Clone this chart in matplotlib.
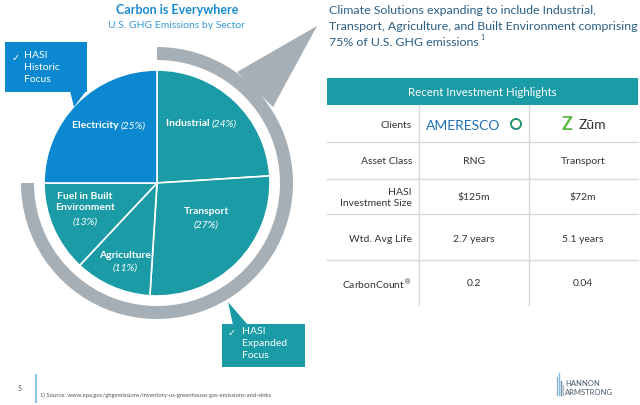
import matplotlib
matplotlib.use("Agg")
import matplotlib.pyplot as plt
from matplotlib.patches import Wedge, Polygon, Rectangle, Circle

plt.rcParams['font.family'] = ['Lato', 'DejaVu Sans']

# pie data (clockwise from 12 o'clock)
sectors = ['Industrial', 'Transport', 'Agriculture', 'Fuel in Built\nEnvironment', 'Electricity']
shares = [24, 27, 11, 13, 25]
sector_colors = ['#1a9ba6', '#1a9ba6', '#1a9ba6', '#1a9ba6', '#0b88cf']
label_pos = [(212, 124), (206, 212), (125, 255), (85, 202), (121, 126)]

# table data
row_labels = ['Clients', 'Asset Class', 'HASI\nInvestment Size', 'Wtd. Avg Life', 'CarbonCount$^{®}$']
ameresco_vals = ['', 'RNG', '$125m', '2.7 years', '0.2']
zum_vals = ['', 'Transport', '$72m', '5.1 years', '0.04']

headline = ['Climate Solutions expanding to include Industrial,',
            'Transport, Agriculture, and Built Environment comprising',
            '75% of U.S. GHG emissions']

BLUE = '#0b88cf'
TEAL = '#1a9ba6'
GREY = '#a7afb6'
H = 406


def Y(py):
    return H - py


fig = plt.figure(figsize=(6.4, 4.06), dpi=100)
ax = fig.add_axes([0, 0, 1, 1])

cx, cy, r = 157, Y(184), 113

# grey ring + pointer
ax.add_patch(Wedge((cx, cy), 136, 180, 450, width=13, color=GREY, lw=0))
ax.add_patch(Polygon([(237, Y(73)), (317, Y(27)), (273, Y(108))], closed=True, color=GREY, lw=0))

# pie
ax.pie(shares, colors=sector_colors, startangle=90, counterclock=False,
       center=(cx, cy), radius=r, frame=True,
       wedgeprops=dict(edgecolor='white', linewidth=1.2))
ax.set_xlim(0, 640)
ax.set_ylim(0, H)
ax.set_aspect('equal')
ax.axis('off')

for name, pct, (lx, ly) in zip(sectors, shares, label_pos):
    if name in ('Industrial', 'Electricity'):
        ax.text(lx, Y(ly), name + ' ', color='white', fontsize=7.5, fontweight='bold',
                ha='right', va='center')
        ax.text(lx, Y(ly), '(%d%%)' % pct, color='white', fontsize=7.5, style='italic',
                ha='left', va='center')
    else:
        nl = name.count('\n')
        ax.text(lx, Y(ly), name, color='white', fontsize=7.5, fontweight='bold',
                ha='center', va='center', linespacing=1.3)
        ax.text(lx, Y(ly + 13 + 7 * nl), '(%d%%)' % pct, color='white', fontsize=7.5,
                style='italic', ha='center', va='center')

# titles
ax.text(177, Y(10), 'Carbon is Everywhere', color='#1a8ad0', fontsize=9, fontweight='bold',
        ha='center', va='center')
ax.text(177, Y(25), 'U.S. GHG Emissions by Sector', color='#3a9ad6', fontsize=7.5,
        ha='center', va='center')

# callout: historic focus
ax.add_patch(Rectangle((5, Y(93)), 82, 50, color=BLUE, lw=0))
ax.add_patch(Polygon([(70, Y(92)), (86, Y(92)), (74, Y(108))], closed=True, color=BLUE, lw=0))
ax.text(12, Y(58), '✓', color='white', fontsize=7, ha='left', va='center')
ax.text(24, Y(51), 'HASI\nHistoric\nFocus', color='white', fontsize=7.5, ha='left',
        va='top', linespacing=1.45)

# callout: expanded focus
ax.add_patch(Rectangle((222, Y(368)), 83, 43, color=TEAL, lw=0))
ax.add_patch(Polygon([(228, Y(303)), (233, Y(326)), (248, Y(326))], closed=True, color=TEAL, lw=0))
ax.text(228, Y(334), '✓', color='white', fontsize=7, ha='left', va='center')
ax.text(242, Y(327), 'HASI\nExpanded\nFocus', color='white', fontsize=7.5, ha='left',
        va='top', linespacing=1.45)

# headline on the right
last = None
for line, yy in zip(headline, (10, 26, 42)):
    last = ax.text(329, Y(yy), line, color='#2a5f86', fontsize=8.9, ha='left', va='center')
fig.canvas.draw()
x_end = ax.transData.inverted().transform(
    last.get_window_extent(fig.canvas.get_renderer()).corners()[-1])[0]
ax.text(x_end + 1.5, Y(37), '1', color='#2a5f86', fontsize=5, ha='left', va='center')

# table
ax.add_patch(Rectangle((327, Y(106)), 311, 27, color=TEAL, lw=0))
ax.text(482, Y(92), 'Recent Investment Highlights', color='white', fontsize=8.3,
        ha='center', va='center')
for x in (419, 529):
    ax.plot([x, x], [Y(106), Y(306)], color='#d9d9d9', lw=1)
for yy in (143, 180, 215, 261):
    ax.plot([327, 638], [Y(yy), Y(yy)], color='#d9d9d9', lw=1)

row_y = [125, 162, 198, 240, 284]
for lab, v1, v2, yy in zip(row_labels, ameresco_vals, zum_vals, row_y):
    ax.text(412, Y(yy), lab, color='#333333', fontsize=7.5, ha='right', va='center',
            linespacing=1.4)
    ax.text(474, Y(yy), v1, color='#333333', fontsize=7.5, ha='center', va='center')
    ax.text(583, Y(yy), v2, color='#333333', fontsize=7.5, ha='center', va='center')

# client logos
ax.text(426, Y(126), 'AMERESCO', color='#1d6fb8', fontsize=10, ha='left', va='center')
ax.add_patch(Circle((516, Y(125)), 5, fill=False, ec='#2aa04a', lw=1.3))
ax.add_patch(Circle((516, Y(125)), 5, fill=False, ec='#1d6fb8', lw=0.8, ls=(0, (3, 3))))
ax.text(567, Y(125), 'Z', color='#5cb848', fontsize=13, fontweight='bold', ha='center', va='center')
ax.text(579, Y(125), 'Zūm', color='#333333', fontsize=10, ha='left', va='center')

# footer
ax.text(20, Y(389), '5', color='#555555', fontsize=5, ha='center', va='center')
ax.plot([36, 36], [Y(376), Y(403)], color='#8cc4e8', lw=1.5)
ax.text(40, Y(395), '1) Source: www.epa.gov/ghgemissions/inventory-us-greenhouse-gas-emissions-and-sinks',
        color='#555555', fontsize=4.2, ha='left', va='center')
for i, (bx, bh) in enumerate([(557, 18), (559, 22), (561, 14), (563, 10)]):
    ax.plot([bx, bx], [Y(396), Y(396 - bh)], color=['#9ab0c4', '#7fc2e6', '#6a8aa6', '#b0b8c0'][i], lw=1)
ax.text(565, Y(384), 'HANNON', color='#4a5a6a', fontsize=5.5, ha='left', va='center')
ax.text(565, Y(393), 'ARMSTRONG', color='#4a5a6a', fontsize=5.5, ha='left', va='center')

fig.savefig('out.png', dpi=100)
